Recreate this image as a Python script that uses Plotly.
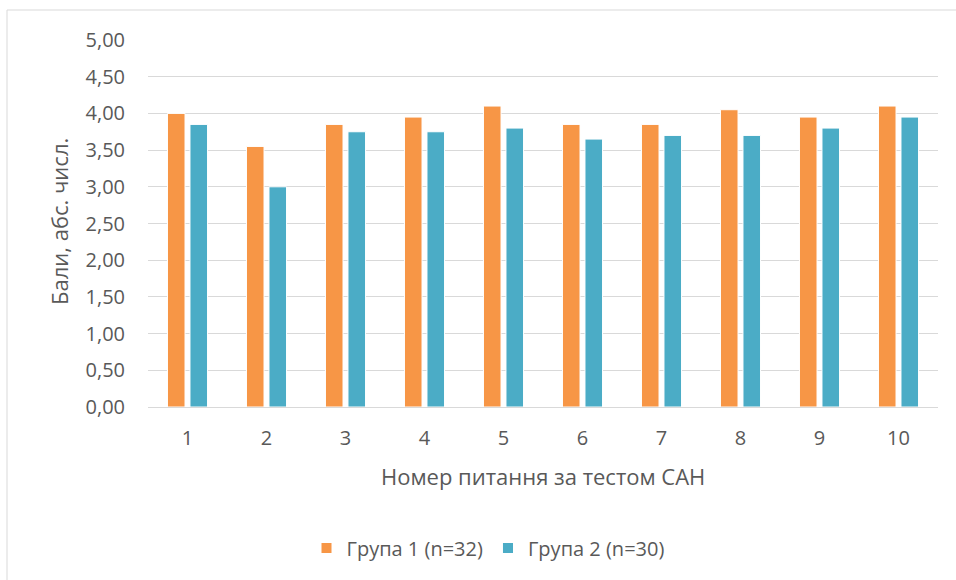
import plotly.graph_objects as go

categories = ["1", "2", "3", "4", "5", "6", "7", "8", "9", "10"]
group1 = [4.00, 3.55, 3.85, 3.95, 4.10, 3.85, 3.85, 4.05, 3.95, 4.10]
group2 = [3.85, 3.00, 3.75, 3.75, 3.80, 3.65, 3.70, 3.70, 3.80, 3.95]
series_names = ["Група 1 (n=32)", "Група 2 (n=30)"]
y_ticks = [0, 0.5, 1, 1.5, 2, 2.5, 3, 3.5, 4, 4.5, 5]

W, H = 956, 580
L, R, T, B = 148, 18, 40, 173
pw, ph = W - L - R, H - T - B

def px(x):
    return (x - L) / pw

def py(y):
    return (H - B - y) / ph

FONT = "Open Sans"
TXT = "#595959"

fig = go.Figure()
fig.add_trace(go.Bar(x=categories, y=group1, name=series_names[0],
                     marker=dict(color="#F79646", line=dict(color="#FFFFFF", width=1))))
fig.add_trace(go.Bar(x=categories, y=group2, name=series_names[1],
                     marker=dict(color="#4BACC6", line=dict(color="#FFFFFF", width=1))))

fig.update_layout(
    width=W, height=H,
    margin=dict(l=L, r=R, t=T, b=B, autoexpand=False),
    paper_bgcolor="white", plot_bgcolor="white",
    barmode="group", bargap=0.43, bargroupgap=0.22,
    separators=", ",
    font=dict(family=FONT, color=TXT, size=20),
    showlegend=True,
    legend=dict(orientation="h", x=px(488), xanchor="center", y=py(548), yanchor="middle",
                font=dict(size=20, color=TXT), bgcolor="rgba(0,0,0,0)",
                itemsizing="constant", itemwidth=30),
    xaxis=dict(type="category", showgrid=False, showline=True, linecolor="#D9D9D9", linewidth=1,
               ticks="", tickfont=dict(size=20, color=TXT), ticklabelstandoff=13, fixedrange=True),
    yaxis=dict(range=[0, 5], tickvals=y_ticks, tickformat=".2f", showgrid=True,
               gridcolor="#D9D9D9", gridwidth=1, zeroline=False, showline=False,
               ticks="", tickfont=dict(size=20, color=TXT), ticklabelstandoff=22, fixedrange=True),
)

fig.add_annotation(text="Номер питання за тестом САН", xref="paper", yref="paper",
                   x=px(543), y=py(476), xanchor="center", yanchor="middle",
                   showarrow=False, font=dict(size=22, color=TXT, family=FONT))
fig.add_annotation(text="Бали, абс. числ.", xref="paper", yref="paper",
                   x=px(59), y=py(222), xanchor="center", yanchor="middle", textangle=-90,
                   showarrow=False, font=dict(size=22, color=TXT, family=FONT))

# chart area border
fig.add_shape(type="line", xref="paper", yref="paper", x0=px(7), x1=px(956), y0=py(10), y1=py(10),
              line=dict(color="#D9D9D9", width=1))
fig.add_shape(type="line", xref="paper", yref="paper", x0=px(7), x1=px(7), y0=py(10), y1=py(580),
              line=dict(color="#D9D9D9", width=1))

fig.write_html("out.html", config={"displayModeBar": False},
               post_script="document.body.style.margin='0';document.body.style.overflow='hidden';")
